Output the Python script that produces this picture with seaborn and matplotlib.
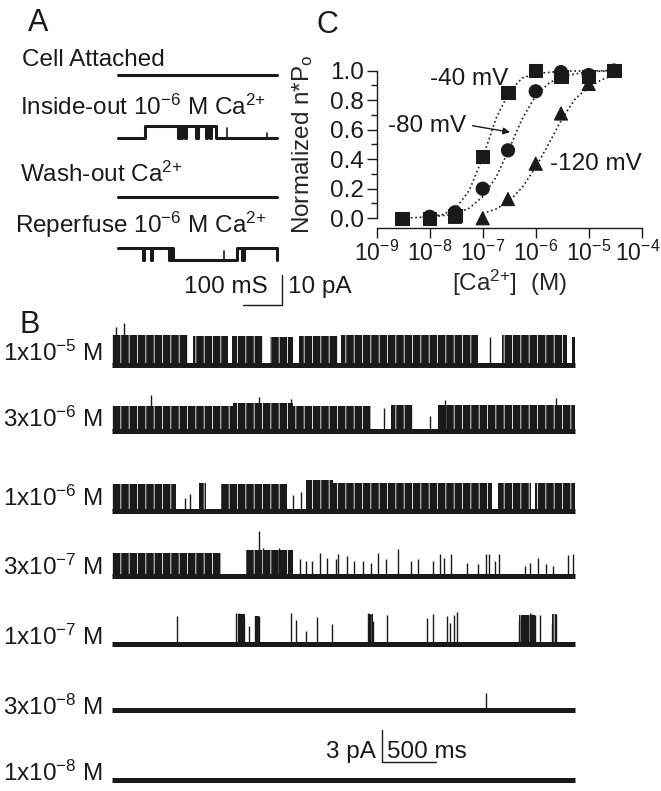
import numpy as np
import pandas as pd
import matplotlib
matplotlib.use('Agg')
import matplotlib.pyplot as plt
import matplotlib.transforms as mtransforms
import seaborn as sns

# ---- panel C: dose response ----
ca = [3e-9, 1e-8, 3e-8, 1e-7, 3e-7, 1e-6, 3e-6, 1e-5, 3e-5]
po_40 = [0.0, 0.0, 0.02, 0.42, 0.85, 1.0, 0.96, 0.96, 1.0]
po_80 = [np.nan, 0.01, 0.04, 0.20, 0.46, 0.86, 0.99, 0.97, 1.0]
po_120 = [np.nan, np.nan, 0.01, 0.0, 0.13, 0.37, 0.71, 0.91, 1.0]

# fitted curves
fit40_x = [3e-9, 1e-8, 1.8e-8, 3.2e-8, 5.6e-8, 1e-7, 1.8e-7, 3.2e-7, 5.6e-7, 1e-6, 3.2e-6, 3e-5]
fit40_y = [0.0, 0.01, 0.026, 0.073, 0.19, 0.41, 0.68, 0.86, 0.95, 0.98, 0.997, 1.0]
fit80_x = [1e-8, 3.2e-8, 5.6e-8, 1e-7, 1.8e-7, 3.2e-7, 5.6e-7, 1e-6, 1.8e-6, 3.2e-6, 1e-5, 3e-5]
fit80_y = [0.006, 0.031, 0.069, 0.146, 0.28, 0.475, 0.676, 0.83, 0.917, 0.963, 0.993, 1.0]
fit120_x = [1e-7, 1.8e-7, 3.2e-7, 5.6e-7, 1e-6, 1.8e-6, 3.2e-6, 5.6e-6, 1e-5, 1.8e-5, 3e-5]
fit120_y = [0.032, 0.063, 0.118, 0.21, 0.346, 0.51, 0.68, 0.81, 0.89, 0.94, 0.97]

# ---- panel A: patch traces (ms, pA) ----
a_labels = ['Cell Attached', r'Inside-out 10$^{-6}$ M Ca$^{2{+}}$',
            r'Wash-out Ca$^{2{+}}$', r'Reperfuse 10$^{-6}$ M Ca$^{2{+}}$']
a_open = [
    [],
    [(69, 154), (157, 162), (165, 171), (174, 201), (204, 226), (229, 235), (238, 251)],
    [],
    [(0, 63), (67, 84), (88, 131), (135, 142), (304, 318), (322, 408)],
]
a_spikes = [[], [(279, 3.3), (381, 1.5)], [], [(273, 3.0)]]
a_unit = 4.0   # open level, pA
a_length = 408

# ---- panel B: Ca2+ series (s, pA) ----
b_labels = [r'1x10$^{-5}$ M', r'3x10$^{-6}$ M', r'1x10$^{-6}$ M', r'3x10$^{-7}$ M',
            r'1x10$^{-7}$ M', r'3x10$^{-8}$ M', r'1x10$^{-8}$ M']
# bursts of flicker: (start, end, open level)
b_bursts = [
    [(0.00, 0.70, 2.8), (0.75, 1.07, 2.7), (1.11, 1.40, 2.7), (1.46, 1.68, 2.6),
     (1.73, 2.09, 2.7), (2.12, 3.39, 2.8), (3.61, 4.21, 2.8), (4.26, 4.29, 2.6)],
    [(0.00, 1.12, 2.3), (1.12, 1.68, 2.6), (1.68, 2.40, 2.3), (2.58, 2.79, 2.4),
     (3.02, 4.29, 2.4)],
    [(0.00, 0.59, 2.5), (0.81, 0.87, 2.6), (1.01, 1.62, 2.5), (1.80, 2.05, 2.9),
     (2.05, 3.52, 2.6), (3.57, 3.88, 2.6), (3.92, 4.29, 2.6)],
    [(0.00, 1.01, 2.2), (1.24, 1.68, 2.4)],
    [(1.15, 1.23, 2.8), (1.32, 1.36, 2.6), (2.37, 2.42, 2.8), (3.77, 3.92, 2.7),
     (4.07, 4.11, 2.8)],
    [],
    [],
]
# single brief openings: (time, height)
b_spikes = [
    [(0.04, 3.6), (0.11, 3.9), (3.50, 2.6)],
    [(0.36, 3.4), (1.36, 3.2), (1.66, 3.0), (2.52, 2.2), (2.94, 1.4), (3.08, 2.9), (4.11, 3.1)],
    [(0.68, 1.2), (0.72, 1.6), (1.68, 1.5), (1.75, 1.8)],
    [(1.36, 4.2), (1.40, 2.6), (1.55, 2.6), (1.74, 1.56), (1.80, 1.4), (1.85, 1.4),
     (1.93, 2.19), (1.99, 1.72), (2.07, 1.56), (2.09, 2.03), (2.18, 1.88), (2.24, 1.4),
     (2.32, 1.4), (2.40, 1.25), (2.46, 2.19), (2.54, 1.56), (2.65, 2.5), (2.77, 1.4),
     (2.83, 1.56), (2.97, 1.4), (3.04, 2.03), (3.07, 1.72), (3.14, 2.1), (3.29, 1.25),
     (3.39, 1.09), (3.46, 2.03), (3.49, 2.1), (3.55, 1.4), (3.58, 2.1), (3.82, 0.94),
     (3.87, 1.25), (3.94, 1.72), (4.02, 1.09), (4.08, 0.94), (4.22, 1.97), (4.27, 2.03)],
    [(0.60, 2.6), (1.15, 2.9), (1.18, 2.9), (1.20, 2.75), (1.22, 2.44), (1.27, 1.66),
     (1.32, 2.6), (1.34, 2.6), (1.36, 2.6), (1.66, 2.9), (1.70, 2.28), (1.80, 1.19),
     (1.90, 2.5), (2.04, 1.88), (2.37, 2.9), (2.39, 2.81), (2.42, 2.13), (2.55, 2.69),
     (2.92, 2.44), (2.97, 2.84), (3.10, 2.6), (3.13, 1.97), (3.17, 2.69), (3.19, 3.0),
     (3.77, 2.28), (3.79, 2.69), (3.82, 2.6), (3.85, 2.69), (3.87, 2.9), (3.89, 2.81),
     (3.92, 2.69), (3.96, 2.69), (4.07, 1.88), (4.11, 2.81)],
    [(3.46, 1.6)],
    [],
]
b_length = 4.29

# ---- layout (figure pixels) ----
W, H = 661, 791
sns.set_theme(style='white')
plt.rcParams['font.family'] = ['Liberation Sans', 'DejaVu Sans']
plt.rcParams['mathtext.fontset'] = 'custom'
plt.rcParams['mathtext.rm'] = 'Liberation Sans'
plt.rcParams['mathtext.it'] = 'Liberation Sans:italic'
plt.rcParams['font.size'] = 17.5
plt.rcParams['hatch.linewidth'] = 0.6

fig = plt.figure(figsize=(W / 100, H / 100), dpi=100)


def px_axes(x0, y0, x1, y1):
    return fig.add_axes([x0 / W, 1 - y1 / H, (x1 - x0) / W, (y1 - y0) / H])


def ftext(x, y, s, **kw):
    kw.setdefault('va', 'baseline')
    return fig.text(x / W, 1 - y / H, s, fontsize=kw.pop('fs', 17.5), color='k', **kw)


# panel A
axA = px_axes(110, 50, 300, 315)
axA.set_xlim((110 - 118) / 0.39, (300 - 118) / 0.39)
axA.set_ylim(0, (315 - 50) / 3)
axA.axis('off')
a_base_px = [75, 138, 197, 260]
for base_px, opens, spikes in zip(a_base_px, a_open, a_spikes):
    base = (315 - base_px) / 3
    xs, ys = [], []
    if not opens or opens[0][0] > 0:
        xs, ys = [0], [base]
    for t0, t1 in opens:
        xs += [t0, t0, t1, t1]
        ys += [base, base + a_unit, base + a_unit, base]
    if opens and opens[0][0] == 0:
        ys[0] = base + a_unit
    if xs[-1] < a_length:
        xs.append(a_length)
        ys.append(ys[-1])
    axA.plot(xs, ys, color='k', lw=2.2)
    for t, h in spikes:
        axA.plot([t, t], [base, base + h], color='k', lw=1.2)
# scale bar 100 ms / 10 pA
axA.plot([320.5, 420.5, 420.5], [3.33, 3.33, 13.33], color='k', lw=1.0)

ftext(28, 31, 'A', fs=22)
ftext(22, 66, a_labels[0])
ftext(20, 115, a_labels[1])
ftext(20, 182, a_labels[2])
ftext(15, 233, a_labels[3])
ftext(268, 293, '100 mS', ha='right')
ftext(288, 293, '10 pA')

# panel B
axB = px_axes(100, 300, 600, 791)
axB.set_xlim((100 - 112) / 108, (600 - 112) / 108)
axB.set_ylim(0, (791 - 300) / 10.67)
axB.axis('off')
b_base_px = [365, 431, 511, 576, 644, 710, 780]
b_label_px = [361, 427, 506, 575, 645, 715, 781]
for base_px, lab_px, lab, bursts, spikes in zip(b_base_px, b_label_px, b_labels,
                                                 b_bursts, b_spikes):
    base = (791 - base_px) / 10.67
    axB.plot([0, b_length], [base, base], color='k', lw=3.6, solid_capstyle='butt')
    for t0, t1, top in bursts:
        axB.fill_between([t0, t1], base, base + top, facecolor='k',
                         edgecolor='white', hatch='||', linewidth=0)
    if spikes:
        t, h = zip(*spikes)
        axB.vlines(t, base, base + np.array(h), color='k', lw=1.0)
    ftext(103, lab_px, lab, ha='right')
# scale bar 3 pA / 500 ms
axB.plot([2.5, 2.5, 3.0], [(791 - 730) / 10.67, (791 - 762) / 10.67, (791 - 762) / 10.67],
         color='k', lw=1.0)
ftext(20, 333, 'B', fs=22)
ftext(376, 758, '3 pA', ha='right')
ftext(387, 758, '500 ms')

# panel C
axC = px_axes(376.7, 61.8, 641.7, 227.7)
pts = pd.DataFrame({
    'ca': ca * 3,
    'po': po_40 + po_80 + po_120,
    'v': ['-40 mV'] * len(ca) + ['-80 mV'] * len(ca) + ['-120 mV'] * len(ca),
}).dropna()
fits = pd.DataFrame({
    'ca': fit40_x + fit80_x + fit120_x,
    'po': fit40_y + fit80_y + fit120_y,
    'v': ['-40 mV'] * len(fit40_x) + ['-80 mV'] * len(fit80_x) + ['-120 mV'] * len(fit120_x),
})
for v in ['-40 mV', '-80 mV', '-120 mV']:
    sns.lineplot(data=fits[fits.v == v], x='ca', y='po', color='k', ls=':', lw=1.2,
                 estimator=None, sort=True, ax=axC)
sns.scatterplot(data=pts, x='ca', y='po', style='v',
                markers={'-40 mV': 's', '-80 mV': 'o', '-120 mV': '^'},
                color='k', s=90, edgecolor='k', legend=False, ax=axC, zorder=3)
axC.set_xscale('log')
axC.set_xlim(1e-9, 1e-4)
axC.set_ylim(-0.064, 1.06)
axC.set_xticks([1e-9, 1e-8, 1e-7, 1e-6, 1e-5, 1e-4])
axC.set_xticklabels([r'10$^{-%d}$' % k for k in range(9, 3, -1)])
axC.set_yticks([0, 0.2, 0.4, 0.6, 0.8, 1.0])
axC.set_yticklabels(['0.0', '0.2', '0.4', '0.6', '0.8', '1.0'])
axC.set_yticks(np.arange(0.1, 1.0, 0.2), minor=True)
axC.xaxis.set_minor_locator(matplotlib.ticker.LogLocator(base=10, subs=np.arange(2, 10)))
axC.xaxis.set_minor_formatter(matplotlib.ticker.NullFormatter())
axC.tick_params(which='major', direction='out', length=7, width=1.0, colors='k',
                labelsize=16.5, pad=2, bottom=True, left=True)
axC.tick_params(axis='y', which='major', labelsize=17.5)
axC.tick_params(which='minor', direction='out', length=4, width=1.0, colors='k',
                bottom=True, left=True)
for s in ['top', 'right']:
    axC.spines[s].set_visible(False)
for s in ['left', 'bottom']:
    axC.spines[s].set_color('k')
    axC.spines[s].set_linewidth(1.0)
axC.spines['left'].set_bounds(0, 1)
axC.set_facecolor('none')
axC.set_xlabel(r'[Ca$^{2{+}}$]  (M)', fontsize=17.5, labelpad=2)
axC.set_ylabel(r'Normalized n*P$_{\rm o}$', fontsize=17.5, labelpad=11)
# pull the last tick label a few pixels left so it stays inside the figure
last = axC.get_xticklabels()[-1]
last.set_transform(last.get_transform() +
                   mtransforms.ScaledTranslation(-4 / 100, 0, fig.dpi_scale_trans))

ftext(317, 33, 'C', fs=22)
ftext(430, 85, '-40 mV')
ftext(388, 132, '-80 mV')
ftext(550, 170, '-120 mV')
axC.annotate('', xy=(3.7e-7, 0.58), xytext=(5.7e-8, 0.63),
             arrowprops=dict(arrowstyle='-|>', color='k', lw=1.0, mutation_scale=10))

fig.savefig('out.png', dpi=100)
